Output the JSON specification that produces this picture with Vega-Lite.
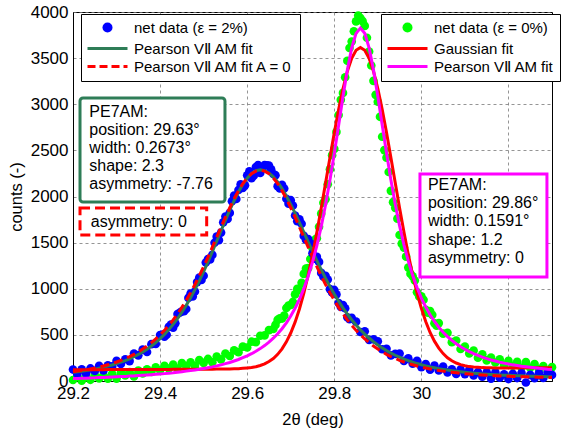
{
  "$schema": "https://vega.github.io/schema/vega-lite/v6.json",
  "width": 479,
  "height": 369,
  "autosize": {"type": "none"},
  "padding": {"left": 73, "top": 12, "right": 10, "bottom": 54},
  "background": "white",
  "config": {
    "font": "Liberation Sans",
    "view": {"stroke": "black", "strokeWidth": 1},
    "axis": {
      "domainColor": "black", "domainWidth": 1,
      "labelColor": "black", "labelFont": "Liberation Sans", "labelFontSize": 17,
      "titleFont": "Liberation Sans", "titleFontSize": 16.5, "titleFontWeight": "normal", "titleColor": "black",
      "gridColor": "#7a7a7a", "gridDash": [3, 3], "gridWidth": 0.8,
      "ticks": false, "labelOverlap": false
    },
    "legend": {
      "title": null, "orient": "none", "direction": "vertical",
      "fillColor": "white", "strokeColor": "black", "padding": 6,
      "labelFont": "Liberation Sans", "labelFontSize": 15, "labelColor": "black", "labelLimit": 400,
      "symbolSize": 100, "symbolOffset": 13, "labelOffset": 19, "rowPadding": 2, "symbolStrokeWidth": 3, "symbolOpacity": 1
    }
  },
  "datasets": {
    "counts": [
      {"x":29.20,"b":124,"g":11,"bf":94,"ba":100,"gp":26,"gg":122},
      {"x":29.21,"b":75,"g":47,"bf":100,"ba":107,"gp":27,"gg":122},
      {"x":29.22,"b":126,"g":4,"bf":106,"ba":114,"gp":29,"gg":122},
      {"x":29.23,"b":83,"g":45,"bf":113,"ba":122,"gp":30,"gg":123},
      {"x":29.24,"b":136,"g":13,"bf":121,"ba":131,"gp":33,"gg":123},
      {"x":29.25,"b":109,"g":64,"bf":129,"ba":140,"gp":34,"gg":123},
      {"x":29.26,"b":164,"g":27,"bf":139,"ba":151,"gp":37,"gg":123},
      {"x":29.27,"b":114,"g":63,"bf":149,"ba":163,"gp":38,"gg":123},
      {"x":29.28,"b":171,"g":26,"bf":161,"ba":176,"gp":41,"gg":124},
      {"x":29.29,"b":158,"g":78,"bf":173,"ba":190,"gp":43,"gg":124},
      {"x":29.30,"b":218,"g":26,"bf":188,"ba":206,"gp":46,"gg":124},
      {"x":29.31,"b":184,"g":88,"bf":204,"ba":224,"gp":48,"gg":124},
      {"x":29.32,"b":236,"g":60,"bf":221,"ba":244,"gp":50,"gg":124},
      {"x":29.33,"b":216,"g":98,"bf":241,"ba":265,"gp":53,"gg":125},
      {"x":29.34,"b":298,"g":50,"bf":263,"ba":289,"gp":55,"gg":125},
      {"x":29.35,"b":278,"g":114,"bf":288,"ba":316,"gp":59,"gg":125},
      {"x":29.36,"b":340,"g":82,"bf":315,"ba":346,"gp":62,"gg":125},
      {"x":29.37,"b":315,"g":126,"bf":345,"ba":379,"gp":66,"gg":125},
      {"x":29.38,"b":399,"g":99,"bf":379,"ba":416,"gp":69,"gg":126},
      {"x":29.39,"b":402,"g":148,"bf":417,"ba":456,"gp":73,"gg":126},
      {"x":29.40,"b":499,"g":116,"bf":459,"ba":501,"gp":76,"gg":126},
      {"x":29.41,"b":480,"g":165,"bf":505,"ba":549,"gp":80,"gg":126},
      {"x":29.42,"b":587,"g":135,"bf":557,"ba":604,"gp":85,"gg":126},
      {"x":29.43,"b":579,"g":179,"bf":614,"ba":663,"gp":89,"gg":127},
      {"x":29.44,"b":726,"g":135,"bf":676,"ba":728,"gp":95,"gg":127},
      {"x":29.45,"b":755,"g":195,"bf":745,"ba":798,"gp":100,"gg":127},
      {"x":29.46,"b":780,"g":162,"bf":820,"ba":875,"gp":107,"gg":127},
      {"x":29.47,"b":947,"g":203,"bf":902,"ba":958,"gp":113,"gg":127},
      {"x":29.48,"b":970,"g":165,"bf":990,"ba":1046,"gp":120,"gg":128},
      {"x":29.49,"b":1120,"g":227,"bf":1085,"ba":1140,"gp":127,"gg":128},
      {"x":29.50,"b":1141,"g":196,"bf":1186,"ba":1240,"gp":136,"gg":128},
      {"x":29.51,"b":1322,"g":239,"bf":1292,"ba":1344,"gp":144,"gg":128},
      {"x":29.52,"b":1367,"g":203,"bf":1402,"ba":1451,"gp":153,"gg":128},
      {"x":29.53,"b":1565,"g":264,"bf":1515,"ba":1559,"gp":164,"gg":129},
      {"x":29.54,"b":1609,"g":235,"bf":1629,"ba":1668,"gp":175,"gg":129},
      {"x":29.55,"b":1782,"g":298,"bf":1742,"ba":1776,"gp":188,"gg":130},
      {"x":29.56,"b":1822,"g":271,"bf":1852,"ba":1878,"gp":201,"gg":131},
      {"x":29.57,"b":2011,"g":332,"bf":1956,"ba":1976,"gp":217,"gg":132},
      {"x":29.58,"b":2070,"g":313,"bf":2050,"ba":2063,"gp":233,"gg":134},
      {"x":29.59,"b":2092,"g":373,"bf":2132,"ba":2140,"gp":253,"gg":137},
      {"x":29.60,"b":2229,"g":363,"bf":2199,"ba":2200,"gp":273,"gg":141},
      {"x":29.61,"b":2199,"g":426,"bf":2249,"ba":2247,"gp":296,"gg":146},
      {"x":29.62,"b":2320,"g":422,"bf":2280,"ba":2275,"gp":322,"gg":155},
      {"x":29.63,"b":2255,"g":491,"bf":2290,"ba":2285,"gp":351,"gg":168},
      {"x":29.64,"b":2341,"g":494,"bf":2281,"ba":2275,"gp":384,"gg":186},
      {"x":29.65,"b":2336,"g":552,"bf":2256,"ba":2247,"gp":422,"gg":211},
      {"x":29.66,"b":2244,"g":564,"bf":2214,"ba":2200,"gp":464,"gg":244},
      {"x":29.67,"b":2112,"g":662,"bf":2157,"ba":2140,"gp":512,"gg":289},
      {"x":29.68,"b":2127,"g":677,"bf":2087,"ba":2063,"gp":567,"gg":349},
      {"x":29.69,"b":1976,"g":791,"bf":2006,"ba":1976,"gp":631,"gg":425},
      {"x":29.70,"b":1960,"g":824,"bf":1915,"ba":1878,"gp":704,"gg":520},
      {"x":29.71,"b":1794,"g":939,"bf":1819,"ba":1776,"gp":789,"gg":638},
      {"x":29.72,"b":1752,"g":986,"bf":1717,"ba":1668,"gp":886,"gg":781},
      {"x":29.73,"b":1573,"g":1161,"bf":1613,"ba":1559,"gp":1001,"gg":951},
      {"x":29.74,"b":1539,"g":1224,"bf":1509,"ba":1451,"gp":1134,"gg":1147},
      {"x":29.75,"b":1386,"g":1439,"bf":1406,"ba":1344,"gp":1289,"gg":1367},
      {"x":29.76,"b":1345,"g":1547,"bf":1305,"ba":1240,"gp":1467,"gg":1611},
      {"x":29.77,"b":1172,"g":1814,"bf":1207,"ba":1140,"gp":1674,"gg":1872},
      {"x":29.78,"b":1139,"g":1970,"bf":1114,"ba":1046,"gp":1910,"gg":2145},
      {"x":29.79,"b":996,"g":2295,"bf":1026,"ba":958,"gp":2175,"gg":2421},
      {"x":29.80,"b":987,"g":2516,"bf":942,"ba":875,"gp":2466,"gg":2691},
      {"x":29.81,"b":845,"g":2883,"bf":865,"ba":798,"gp":2773,"gg":2943},
      {"x":29.82,"b":822,"g":3123,"bf":792,"ba":728,"gp":3083,"gg":3168},
      {"x":29.83,"b":691,"g":3471,"bf":726,"ba":663,"gp":3371,"gg":3357},
      {"x":29.84,"b":684,"g":3680,"bf":664,"ba":604,"gp":3610,"gg":3498},
      {"x":29.85,"b":643,"g":3898,"bf":608,"ba":549,"gp":3768,"gg":3585},
      {"x":29.86,"b":531,"g":3935,"bf":556,"ba":501,"gp":3825,"gg":3615},
      {"x":29.87,"b":539,"g":3849,"bf":509,"ba":456,"gp":3769,"gg":3585},
      {"x":29.88,"b":446,"g":3572,"bf":466,"ba":416,"gp":3612,"gg":3499},
      {"x":29.89,"b":452,"g":3254,"bf":427,"ba":379,"gp":3374,"gg":3358},
      {"x":29.90,"b":431,"g":3027,"bf":391,"ba":346,"gp":3087,"gg":3170},
      {"x":29.91,"b":344,"g":2648,"bf":359,"ba":316,"gp":2778,"gg":2945},
      {"x":29.92,"b":350,"g":2421,"bf":330,"ba":289,"gp":2471,"gg":2693},
      {"x":29.93,"b":278,"g":2061,"bf":303,"ba":265,"gp":2181,"gg":2424},
      {"x":29.94,"b":294,"g":1877,"bf":279,"ba":244,"gp":1917,"gg":2148},
      {"x":29.95,"b":298,"g":1582,"bf":258,"ba":224,"gp":1682,"gg":1876},
      {"x":29.96,"b":218,"g":1446,"bf":238,"ba":206,"gp":1476,"gg":1615},
      {"x":29.97,"b":245,"g":1229,"bf":220,"ba":190,"gp":1299,"gg":1371},
      {"x":29.98,"b":189,"g":1135,"bf":204,"ba":176,"gp":1145,"gg":1152},
      {"x":29.99,"b":219,"g":963,"bf":189,"ba":163,"gp":1013,"gg":956},
      {"x":30.00,"b":151,"g":919,"bf":176,"ba":151,"gp":899,"gg":787},
      {"x":30.01,"b":184,"g":772,"bf":164,"ba":140,"gp":802,"gg":644},
      {"x":30.02,"b":123,"g":758,"bf":153,"ba":131,"gp":718,"gg":526},
      {"x":30.03,"b":168,"g":626,"bf":143,"ba":122,"gp":646,"gg":432},
      {"x":30.04,"b":114,"g":628,"bf":134,"ba":114,"gp":583,"gg":356},
      {"x":30.05,"b":156,"g":514,"bf":126,"ba":107,"gp":529,"gg":297},
      {"x":30.06,"b":94,"g":522,"bf":119,"ba":100,"gp":482,"gg":252},
      {"x":30.07,"b":127,"g":421,"bf":112,"ba":94,"gp":441,"gg":219},
      {"x":30.08,"b":76,"g":439,"bf":106,"ba":89,"gp":404,"gg":195},
      {"x":30.09,"b":125,"g":347,"bf":100,"ba":84,"gp":372,"gg":177},
      {"x":30.10,"b":75,"g":374,"bf":95,"ba":79,"gp":344,"gg":165},
      {"x":30.11,"b":120,"g":299,"bf":90,"ba":75,"gp":319,"gg":156},
      {"x":30.12,"b":60,"g":331,"bf":85,"ba":71,"gp":296,"gg":151},
      {"x":30.13,"b":96,"g":252,"bf":81,"ba":68,"gp":277,"gg":148},
      {"x":30.14,"b":47,"g":288,"bf":77,"ba":65,"gp":258,"gg":145},
      {"x":30.15,"b":94,"g":223,"bf":74,"ba":62,"gp":243,"gg":144},
      {"x":30.16,"b":26,"g":253,"bf":71,"ba":59,"gp":228,"gg":143},
      {"x":30.17,"b":93,"g":201,"bf":68,"ba":57,"gp":216,"gg":142},
      {"x":30.18,"b":35,"g":234,"bf":65,"ba":55,"gp":204,"gg":142},
      {"x":30.19,"b":73,"g":174,"bf":63,"ba":53,"gp":194,"gg":142},
      {"x":30.20,"b":21,"g":219,"bf":61,"ba":51,"gp":184,"gg":142},
      {"x":30.21,"b":79,"g":165,"bf":59,"ba":49,"gp":175,"gg":142},
      {"x":30.22,"b":32,"g":208,"bf":57,"ba":48,"gp":168,"gg":142},
      {"x":30.23,"b":86,"g":145,"bf":56,"ba":47,"gp":160,"gg":143},
      {"x":30.24,"b":-16,"g":204,"bf":54,"ba":45,"gp":154,"gg":143},
      {"x":30.25,"b":67,"g":143,"bf":52,"ba":44,"gp":148,"gg":143},
      {"x":30.26,"b":31,"g":183,"bf":51,"ba":43,"gp":143,"gg":143},
      {"x":30.27,"b":85,"g":127,"bf":50,"ba":42,"gp":137,"gg":143},
      {"x":30.28,"b":33,"g":163,"bf":48,"ba":41,"gp":133,"gg":144},
      {"x":30.29,"b":92,"g":108,"bf":47,"ba":39,"gp":128,"gg":144},
      {"x":30.30,"b":66,"g":150,"bf":46,"ba":38,"gp":125,"gg":144}
    ],
    "blueExtra": [
      {"x":29.405,"b":502},{"x":29.415,"b":501},{"x":29.425,"b":611},{"x":29.435,"b":625},
      {"x":29.445,"b":740},{"x":29.455,"b":757},{"x":29.465,"b":901},{"x":29.475,"b":916},
      {"x":29.485,"b":1072},{"x":29.495,"b":1095},{"x":29.505,"b":1284},{"x":29.515,"b":1317},
      {"x":29.525,"b":1498},{"x":29.535,"b":1527},{"x":29.545,"b":1720},{"x":29.555,"b":1757},
      {"x":29.565,"b":1949},{"x":29.575,"b":1973},{"x":29.585,"b":2131},{"x":29.595,"b":2121},
      {"x":29.605,"b":2274},{"x":29.615,"b":2225},{"x":29.625,"b":2340},{"x":29.635,"b":2306},
      {"x":29.645,"b":2339},{"x":29.655,"b":2295},{"x":29.665,"b":2231},{"x":29.675,"b":2087},
      {"x":29.685,"b":2087},{"x":29.695,"b":1921},{"x":29.705,"b":1902},{"x":29.715,"b":1733},
      {"x":29.725,"b":1705},{"x":29.735,"b":1531},{"x":29.745,"b":1493},{"x":29.755,"b":1326},
      {"x":29.765,"b":1291},{"x":29.775,"b":1131},{"x":29.785,"b":1100},{"x":29.795,"b":959},
      {"x":29.805,"b":939},{"x":29.815,"b":804},{"x":29.825,"b":789},{"x":29.835,"b":670}
    ],
    "greenExtra": [
      {"x":29.665,"g":608},{"x":29.675,"g":680},{"x":29.685,"g":709},{"x":29.695,"g":818},
      {"x":29.705,"g":857},{"x":29.715,"g":998},{"x":29.725,"g":1064},{"x":29.735,"g":1218},
      {"x":29.745,"g":1322},{"x":29.755,"g":1528},{"x":29.765,"g":1671},{"x":29.775,"g":1932},
      {"x":29.785,"g":2133},{"x":29.795,"g":2448},{"x":29.805,"g":2700},{"x":29.815,"g":3048},
      {"x":29.825,"g":3292},{"x":29.835,"g":3610},{"x":29.845,"g":3791},{"x":29.855,"g":3961},
      {"x":29.865,"g":3901},{"x":29.875,"g":3721},{"x":29.885,"g":3420},{"x":29.895,"g":3102},
      {"x":29.905,"g":2864},{"x":29.915,"g":2503},{"x":29.925,"g":2266},{"x":29.935,"g":1939},
      {"x":29.945,"g":1760},{"x":29.955,"g":1489},{"x":29.965,"g":1348},{"x":29.975,"g":1162},
      {"x":29.985,"g":1089},{"x":29.995,"g":916},{"x":30.005,"g":881},{"x":30.015,"g":740},
      {"x":30.025,"g":717},{"x":30.035,"g":600}
    ]
  },
  "data": {"name": "counts"},
  "layer": [
    {
      "mark": {"type": "point", "filled": true, "size": 75, "opacity": 1},
      "encoding": {
        "x": {
          "field": "x", "type": "quantitative", "title": "2θ (deg)",
          "scale": {"domain": [29.2, 30.3], "nice": false, "zero": false},
          "axis": {"values": [29.2, 29.4, 29.6, 29.8, 30, 30.2], "labelExpr": "format(datum.value, '~g')", "labelFlush": false, "labelPadding": 4, "titlePadding": 10}
        },
        "y": {"field": "g", "type": "quantitative", "title": "counts (-)", "scale": {"domain": [0, 4000], "nice": false},
              "axis": {"values": [0, 500, 1000, 1500, 2000, 2500, 3000, 3500, 4000], "format": "d", "labelPadding": 5, "titlePadding": 6}},
        "color": {
          "datum": "net data (ε = 0%)", "type": "nominal",
          "scale": {"domain": ["net data (ε = 0%)", "Gaussian fit", "Pearson VⅡ AM fit"], "range": ["#00ff00", "#ff0000", "#ff00ff"]},
          "legend": {
            "legendX": 308, "legendY": 2,
            "encode": {"symbols": {"update": {
              "shape": {"signal": "datum.value === 'net data (ε = 0%)' ? 'circle' : 'M-4,0H4'"},
              "fill": {"signal": "datum.value === 'net data (ε = 0%)' ? '#00ff00' : 'transparent'"},
              "stroke": {"signal": "datum.value === 'net data (ε = 0%)' ? 'transparent' : (datum.value === 'Gaussian fit' ? '#ff0000' : '#ff00ff')"},
              "strokeWidth": {"value": 3},
              "opacity": {"value": 1}
            }}}
          }
        }
      }
    },
    {
      "data": {"name": "greenExtra"},
      "mark": {"type": "point", "filled": true, "size": 75, "opacity": 1, "color": "#00ff00"},
      "encoding": {
        "x": {"field": "x", "type": "quantitative", "title": "2θ (deg)"},
        "y": {"field": "g", "type": "quantitative", "title": "counts (-)"}
      }
    },
    {
      "mark": {"type": "point", "filled": true, "size": 75, "opacity": 1},
      "encoding": {
        "x": {"field": "x", "type": "quantitative", "title": "2θ (deg)"},
        "y": {"field": "b", "type": "quantitative", "title": "counts (-)"},
        "color": {
          "datum": "net data (ε = 2%)", "type": "nominal",
          "scale": {"domain": ["net data (ε = 2%)", "Pearson VⅡ AM fit", "Pearson VⅡ AM fit A = 0"], "range": ["#0000ff", "#2e7d57", "#ff0000"]},
          "legend": {
            "legendX": 8, "legendY": 2,
            "encode": {"symbols": {"update": {
              "shape": {"signal": "datum.value === 'net data (ε = 2%)' ? 'circle' : 'M-4,0H4'"},
              "fill": {"signal": "datum.value === 'net data (ε = 2%)' ? '#0000ff' : 'transparent'"},
              "stroke": {"signal": "datum.value === 'net data (ε = 2%)' ? 'transparent' : (datum.value === 'Pearson VⅡ AM fit' ? '#2e7d57' : '#ff0000')"},
              "strokeDash": {"signal": "datum.value === 'Pearson VⅡ AM fit A = 0' ? [8, 4] : [1, 0]"},
              "strokeWidth": {"value": 3},
              "opacity": {"value": 1}
            }}}
          }
        }
      }
    },
    {
      "data": {"name": "blueExtra"},
      "mark": {"type": "point", "filled": true, "size": 75, "opacity": 1, "color": "#0000ff"},
      "encoding": {
        "x": {"field": "x", "type": "quantitative", "title": "2θ (deg)"},
        "y": {"field": "b", "type": "quantitative", "title": "counts (-)"}
      }
    },
    {
      "mark": {"type": "line", "color": "#2e7d57", "strokeWidth": 3},
      "encoding": {"x": {"field": "x", "type": "quantitative", "title": "2θ (deg)"}, "y": {"field": "bf", "type": "quantitative", "title": "counts (-)"}}
    },
    {
      "mark": {"type": "line", "color": "#ff0000", "strokeWidth": 3, "strokeDash": [9, 5]},
      "encoding": {"x": {"field": "x", "type": "quantitative", "title": "2θ (deg)"}, "y": {"field": "ba", "type": "quantitative", "title": "counts (-)"}}
    },
    {
      "mark": {"type": "line", "color": "#ff0000", "strokeWidth": 3},
      "encoding": {"x": {"field": "x", "type": "quantitative", "title": "2θ (deg)"}, "y": {"field": "gg", "type": "quantitative", "title": "counts (-)"}}
    },
    {
      "mark": {"type": "line", "color": "#ff00ff", "strokeWidth": 3},
      "encoding": {"x": {"field": "x", "type": "quantitative", "title": "2θ (deg)"}, "y": {"field": "gp", "type": "quantitative", "title": "counts (-)"}}
    },
    {
      "data": {"values": [{"box": "PE7AM ε = 2%"}]},
      "mark": {"type": "rect", "fill": "white", "stroke": "#2e7d57", "strokeWidth": 3, "cornerRadius": 3},
      "encoding": {
        "x": {"datum": 29.2161, "type": "quantitative"}, "x2": {"datum": 29.549},
        "y": {"datum": 3068, "type": "quantitative"}, "y2": {"datum": 1940}
      }
    },
    {
      "data": {"values": [{"box": "A = 0"}]},
      "mark": {"type": "rect", "fill": "white", "stroke": "#ff0000", "strokeWidth": 3, "strokeDash": [10, 5]},
      "encoding": {
        "x": {"datum": 29.2161, "type": "quantitative"}, "x2": {"datum": 29.507},
        "y": {"datum": 1875, "type": "quantitative"}, "y2": {"datum": 1583}
      }
    },
    {
      "data": {"values": [{"box": "PE7AM ε = 0%"}]},
      "mark": {"type": "rect", "fill": "white", "stroke": "#ff00ff", "strokeWidth": 3},
      "encoding": {
        "x": {"datum": 29.9968, "type": "quantitative"}, "x2": {"datum": 30.2884},
        "y": {"datum": 2244, "type": "quantitative"}, "y2": {"datum": 1127}
      }
    },
    {
      "data": {"values": [{"lines": ["PE7AM:", "position: 29.63°", "width: 0.2673°", "shape: 2.3", "asymmetry: -7.76"]}]},
      "mark": {"type": "text", "align": "left", "baseline": "middle", "fontSize": 16, "lineHeight": 18, "font": "Liberation Sans", "color": "black"},
      "encoding": {
        "x": {"datum": 29.2374, "type": "quantitative"},
        "y": {"datum": 2916, "type": "quantitative"},
        "text": {"field": "lines"}
      }
    },
    {
      "data": {"values": [{"lines": "asymmetry: 0"}]},
      "mark": {"type": "text", "align": "left", "baseline": "middle", "fontSize": 16, "font": "Liberation Sans", "color": "black"},
      "encoding": {
        "x": {"datum": 29.241, "type": "quantitative"},
        "y": {"datum": 1724, "type": "quantitative"},
        "text": {"field": "lines"}
      }
    },
    {
      "data": {"values": [{"lines": ["PE7AM:", "position: 29.86°", "width: 0.1591°", "shape: 1.2", "asymmetry: 0"]}]},
      "mark": {"type": "text", "align": "left", "baseline": "middle", "fontSize": 16, "lineHeight": 18.25, "font": "Liberation Sans", "color": "black"},
      "encoding": {
        "x": {"datum": 30.015, "type": "quantitative"},
        "y": {"datum": 2125, "type": "quantitative"},
        "text": {"field": "lines"}
      }
    }
  ],
  "resolve": {"scale": {"color": "independent"}}
}
